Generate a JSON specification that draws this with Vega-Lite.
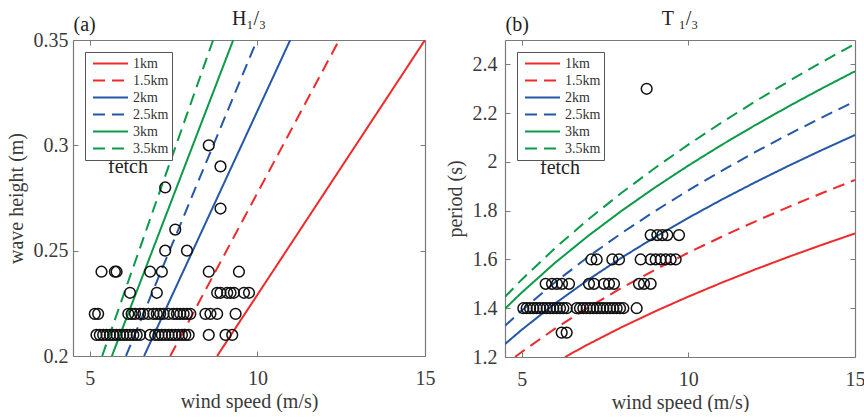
{
"$schema": "https://vega.github.io/schema/vega-lite/v6.json",
"padding": {"left": 6, "top": 8, "right": 0, "bottom": 0},
"config": {
  "font": "Liberation Serif",
  "view": {"stroke": null},
  "axis": {"grid": false, "labelFlush": false, "domainColor": "#7a7a7a", "tickColor": "#7a7a7a", "tickSize": -5, "tickWidth": 1, "domainWidth": 1.2,
    "labelFont": "Liberation Serif", "labelFontSize": 20, "labelColor": "#3a3a3a",
    "titleFont": "Liberation Serif", "titleFontSize": 20, "titleFontWeight": "normal", "titleColor": "#3a3a3a"},
  "legend": {"orient": "top-left", "offset": 12, "title": null, "symbolType": "stroke", "symbolSize": 1225, "symbolStrokeWidth": 2,
    "clipHeight": 17, "rowPadding": 0, "padding": 3, "symbolOffset": 4, "labelOffset": 4,
    "labelFont": "Liberation Serif", "labelFontSize": 14, "labelColor": "#333333", "fillColor": "white", "strokeColor": "#555555"},
  "title": {"font": "Liberation Serif", "fontSize": 20, "fontWeight": "normal", "color": "#222222"},
  "concat": {"spacing": 10}
},
"datasets": {
  "hl": [
    {"fetch": "1km", "speed": 8.8, "height": 0.2}, {"fetch": "1km", "speed": 11.9, "height": 0.275}, {"fetch": "1km", "speed": 15.0, "height": 0.35},
    {"fetch": "1.5km", "speed": 7.4, "height": 0.2}, {"fetch": "1.5km", "speed": 9.92, "height": 0.275}, {"fetch": "1.5km", "speed": 12.44, "height": 0.35},
    {"fetch": "2km", "speed": 6.62, "height": 0.2}, {"fetch": "2km", "speed": 8.8, "height": 0.275}, {"fetch": "2km", "speed": 10.98, "height": 0.35},
    {"fetch": "2.5km", "speed": 6.08, "height": 0.2}, {"fetch": "2.5km", "speed": 8.03, "height": 0.275}, {"fetch": "2.5km", "speed": 9.99, "height": 0.35},
    {"fetch": "3km", "speed": 5.66, "height": 0.2}, {"fetch": "3km", "speed": 7.47, "height": 0.275}, {"fetch": "3km", "speed": 9.28, "height": 0.35},
    {"fetch": "3.5km", "speed": 5.37, "height": 0.2}, {"fetch": "3.5km", "speed": 7.02, "height": 0.275}, {"fetch": "3.5km", "speed": 8.68, "height": 0.35}
  ],
  "tl": [
    {"fetch": "1km", "speed": 6.3, "period": 1.2}, {"fetch": "1km", "speed": 7, "period": 1.2524}, {"fetch": "1km", "speed": 8, "period": 1.3222}, {"fetch": "1km", "speed": 9, "period": 1.387}, {"fetch": "1km", "speed": 10, "period": 1.4476}, {"fetch": "1km", "speed": 11, "period": 1.5047}, {"fetch": "1km", "speed": 12, "period": 1.5588}, {"fetch": "1km", "speed": 13, "period": 1.6103}, {"fetch": "1km", "speed": 14, "period": 1.6595}, {"fetch": "1km", "speed": 15, "period": 1.7067},
    {"fetch": "1.5km", "speed": 4.8, "period": 1.2}, {"fetch": "1.5km", "speed": 5, "period": 1.2205}, {"fetch": "1.5km", "speed": 6, "period": 1.3165}, {"fetch": "1.5km", "speed": 7, "period": 1.4035}, {"fetch": "1.5km", "speed": 8, "period": 1.4835}, {"fetch": "1.5km", "speed": 9, "period": 1.5579}, {"fetch": "1.5km", "speed": 10, "period": 1.6275}, {"fetch": "1.5km", "speed": 11, "period": 1.6932}, {"fetch": "1.5km", "speed": 12, "period": 1.7555}, {"fetch": "1.5km", "speed": 13, "period": 1.8149}, {"fetch": "1.5km", "speed": 14, "period": 1.8716}, {"fetch": "1.5km", "speed": 15, "period": 1.926},
    {"fetch": "2km", "speed": 4.5, "period": 1.253}, {"fetch": "2km", "speed": 5, "period": 1.3115}, {"fetch": "2km", "speed": 6, "period": 1.4192}, {"fetch": "2km", "speed": 7, "period": 1.5172}, {"fetch": "2km", "speed": 8, "period": 1.6075}, {"fetch": "2km", "speed": 9, "period": 1.6916}, {"fetch": "2km", "speed": 10, "period": 1.7706}, {"fetch": "2km", "speed": 11, "period": 1.8452}, {"fetch": "2km", "speed": 12, "period": 1.916}, {"fetch": "2km", "speed": 13, "period": 1.9836}, {"fetch": "2km", "speed": 14, "period": 2.0483}, {"fetch": "2km", "speed": 15, "period": 2.1104},
    {"fetch": "2.5km", "speed": 4.5, "period": 1.328}, {"fetch": "2.5km", "speed": 5, "period": 1.3906}, {"fetch": "2.5km", "speed": 6, "period": 1.5061}, {"fetch": "2.5km", "speed": 7, "period": 1.6112}, {"fetch": "2.5km", "speed": 8, "period": 1.7081}, {"fetch": "2.5km", "speed": 9, "period": 1.7984}, {"fetch": "2.5km", "speed": 10, "period": 1.8833}, {"fetch": "2.5km", "speed": 11, "period": 1.9635}, {"fetch": "2.5km", "speed": 12, "period": 2.0397}, {"fetch": "2.5km", "speed": 13, "period": 2.1124}, {"fetch": "2.5km", "speed": 14, "period": 2.182}, {"fetch": "2.5km", "speed": 15, "period": 2.2489},
    {"fetch": "3km", "speed": 4.5, "period": 1.398}, {"fetch": "3km", "speed": 5, "period": 1.4642}, {"fetch": "3km", "speed": 6, "period": 1.5862}, {"fetch": "3km", "speed": 7, "period": 1.6972}, {"fetch": "3km", "speed": 8, "period": 1.7997}, {"fetch": "3km", "speed": 9, "period": 1.8952}, {"fetch": "3km", "speed": 10, "period": 1.985}, {"fetch": "3km", "speed": 11, "period": 2.0698}, {"fetch": "3km", "speed": 12, "period": 2.1503}, {"fetch": "3km", "speed": 13, "period": 2.2273}, {"fetch": "3km", "speed": 14, "period": 2.3009}, {"fetch": "3km", "speed": 15, "period": 2.3717},
    {"fetch": "3.5km", "speed": 4.5, "period": 1.447}, {"fetch": "3.5km", "speed": 5, "period": 1.5171}, {"fetch": "3.5km", "speed": 6, "period": 1.6465}, {"fetch": "3.5km", "speed": 7, "period": 1.7645}, {"fetch": "3.5km", "speed": 8, "period": 1.8735}, {"fetch": "3.5km", "speed": 9, "period": 1.9753}, {"fetch": "3.5km", "speed": 10, "period": 2.071}, {"fetch": "3.5km", "speed": 11, "period": 2.1615}, {"fetch": "3.5km", "speed": 12, "period": 2.2476}, {"fetch": "3.5km", "speed": 13, "period": 2.3298}, {"fetch": "3.5km", "speed": 14, "period": 2.4087}, {"fetch": "3.5km", "speed": 15, "period": 2.4845}
  ],
  "hp": [
    {"speed": 5.2, "height": 0.21}, {"speed": 5.3, "height": 0.21}, {"speed": 5.4, "height": 0.21}, {"speed": 5.5, "height": 0.21}, {"speed": 5.6, "height": 0.21}, {"speed": 5.7, "height": 0.21}, {"speed": 5.8, "height": 0.21}, {"speed": 5.9, "height": 0.21}, {"speed": 6.0, "height": 0.21}, {"speed": 6.1, "height": 0.21}, {"speed": 6.2, "height": 0.21}, {"speed": 6.3, "height": 0.21}, {"speed": 6.4, "height": 0.21}, {"speed": 6.5, "height": 0.21}, {"speed": 6.8, "height": 0.21}, {"speed": 6.95, "height": 0.21}, {"speed": 7.05, "height": 0.21}, {"speed": 7.15, "height": 0.21}, {"speed": 7.25, "height": 0.21}, {"speed": 7.35, "height": 0.21}, {"speed": 7.45, "height": 0.21}, {"speed": 7.55, "height": 0.21}, {"speed": 7.65, "height": 0.21}, {"speed": 7.75, "height": 0.21}, {"speed": 7.85, "height": 0.21}, {"speed": 7.95, "height": 0.21}, {"speed": 8.55, "height": 0.21}, {"speed": 9.05, "height": 0.21}, {"speed": 9.25, "height": 0.21},
    {"speed": 5.15, "height": 0.22}, {"speed": 5.25, "height": 0.22}, {"speed": 6.15, "height": 0.22}, {"speed": 6.25, "height": 0.22}, {"speed": 6.35, "height": 0.22}, {"speed": 6.5, "height": 0.22}, {"speed": 6.6, "height": 0.22}, {"speed": 6.75, "height": 0.22}, {"speed": 6.9, "height": 0.22}, {"speed": 7.0, "height": 0.22}, {"speed": 7.1, "height": 0.22}, {"speed": 7.2, "height": 0.22}, {"speed": 7.35, "height": 0.22}, {"speed": 7.5, "height": 0.22}, {"speed": 7.6, "height": 0.22}, {"speed": 7.7, "height": 0.22}, {"speed": 7.8, "height": 0.22}, {"speed": 7.9, "height": 0.22}, {"speed": 8.0, "height": 0.22}, {"speed": 8.45, "height": 0.22}, {"speed": 8.6, "height": 0.22}, {"speed": 8.8, "height": 0.22}, {"speed": 9.35, "height": 0.22},
    {"speed": 6.2, "height": 0.23}, {"speed": 7.0, "height": 0.23}, {"speed": 8.8, "height": 0.23}, {"speed": 8.9, "height": 0.23}, {"speed": 9.1, "height": 0.23}, {"speed": 9.2, "height": 0.23}, {"speed": 9.3, "height": 0.23}, {"speed": 9.6, "height": 0.23}, {"speed": 9.75, "height": 0.23},
    {"speed": 5.35, "height": 0.24}, {"speed": 5.75, "height": 0.24}, {"speed": 5.8, "height": 0.24}, {"speed": 6.8, "height": 0.24}, {"speed": 7.15, "height": 0.24}, {"speed": 8.55, "height": 0.24}, {"speed": 9.45, "height": 0.24},
    {"speed": 7.25, "height": 0.25}, {"speed": 7.9, "height": 0.25}, {"speed": 7.55, "height": 0.26}, {"speed": 8.9, "height": 0.27}, {"speed": 7.25, "height": 0.28}, {"speed": 8.9, "height": 0.29}, {"speed": 8.55, "height": 0.30}
  ],
  "tp": [
    {"speed": 6.2, "period": 1.3}, {"speed": 6.35, "period": 1.3},
    {"speed": 5.05, "period": 1.4}, {"speed": 5.15, "period": 1.4}, {"speed": 5.25, "period": 1.4}, {"speed": 5.35, "period": 1.4}, {"speed": 5.45, "period": 1.4}, {"speed": 5.55, "period": 1.4}, {"speed": 5.65, "period": 1.4}, {"speed": 5.75, "period": 1.4}, {"speed": 5.85, "period": 1.4}, {"speed": 5.95, "period": 1.4}, {"speed": 6.05, "period": 1.4}, {"speed": 6.15, "period": 1.4}, {"speed": 6.25, "period": 1.4}, {"speed": 6.35, "period": 1.4}, {"speed": 6.65, "period": 1.4}, {"speed": 6.75, "period": 1.4}, {"speed": 6.85, "period": 1.4}, {"speed": 6.95, "period": 1.4}, {"speed": 7.05, "period": 1.4}, {"speed": 7.15, "period": 1.4}, {"speed": 7.25, "period": 1.4}, {"speed": 7.35, "period": 1.4}, {"speed": 7.45, "period": 1.4}, {"speed": 7.55, "period": 1.4}, {"speed": 7.65, "period": 1.4}, {"speed": 7.75, "period": 1.4}, {"speed": 7.85, "period": 1.4}, {"speed": 7.95, "period": 1.4}, {"speed": 8.05, "period": 1.4}, {"speed": 8.45, "period": 1.4},
    {"speed": 5.72, "period": 1.5}, {"speed": 5.91, "period": 1.5}, {"speed": 6.06, "period": 1.5}, {"speed": 6.21, "period": 1.5}, {"speed": 6.42, "period": 1.5}, {"speed": 7.02, "period": 1.5}, {"speed": 7.17, "period": 1.5}, {"speed": 7.47, "period": 1.5}, {"speed": 7.62, "period": 1.5}, {"speed": 7.77, "period": 1.5}, {"speed": 8.52, "period": 1.5}, {"speed": 8.67, "period": 1.5}, {"speed": 8.87, "period": 1.5},
    {"speed": 7.09, "period": 1.6}, {"speed": 7.25, "period": 1.6}, {"speed": 7.72, "period": 1.6}, {"speed": 7.92, "period": 1.6}, {"speed": 8.57, "period": 1.6}, {"speed": 8.87, "period": 1.6}, {"speed": 9.02, "period": 1.6}, {"speed": 9.17, "period": 1.6}, {"speed": 9.32, "period": 1.6}, {"speed": 9.47, "period": 1.6}, {"speed": 9.62, "period": 1.6},
    {"speed": 8.87, "period": 1.7}, {"speed": 9.07, "period": 1.7}, {"speed": 9.22, "period": 1.7}, {"speed": 9.37, "period": 1.7}, {"speed": 9.72, "period": 1.7},
    {"speed": 8.75, "period": 2.3}
  ],
  "lab": [{"label": "fetch"}]
},
"hconcat": [
  {
    "width": 352, "height": 316,
    "title": {"text": "H\u2081/\u2083", "frame": "group", "offset": -14},
    "layer": [
      {"data": {"name": "hl"}, "mark": {"type": "line", "strokeWidth": 2, "clip": true},
       "encoding": {
         "x": {"field": "speed", "type": "quantitative", "scale": {"domain": [4.5, 15], "nice": false, "zero": false}, "axis": {"title": "wind speed (m/s)", "values": [5, 10, 15], "labelPadding": 17, "titlePadding": 3}},
         "y": {"field": "height", "type": "quantitative", "scale": {"domain": [0.2, 0.35], "nice": false, "zero": false}, "axis": {"title": "wave height (m)", "values": [0.2, 0.25, 0.3, 0.35], "format": "~g", "labelPadding": 10, "titlePadding": 7}},
         "color": {"field": "fetch", "type": "nominal", "scale": {"domain": ["1km", "1.5km", "2km", "2.5km", "3km", "3.5km"], "range": ["#ee2a2a", "#ee2a2a", "#2557a8", "#2557a8", "#0b9a48", "#0b9a48"]}},
         "strokeDash": {"field": "fetch", "type": "nominal", "scale": {"domain": ["1km", "1.5km", "2km", "2.5km", "3km", "3.5km"], "range": [[1, 0], [12, 7], [1, 0], [12, 7], [1, 0], [12, 7]]}}
       }},
      {"data": {"name": "hp"}, "mark": {"type": "point", "shape": "circle", "filled": false, "color": "#111111", "size": 115, "strokeWidth": 1.5, "opacity": 1},
       "encoding": {
         "x": {"field": "speed", "type": "quantitative", "scale": {"domain": [4.5, 15], "nice": false, "zero": false}, "axis": null},
         "y": {"field": "height", "type": "quantitative", "scale": {"domain": [0.2, 0.35], "nice": false, "zero": false}, "axis": null}
       }},
      {"data": {"name": "lab"}, "mark": {"type": "text", "fontSize": 20, "color": "#222222", "align": "center", "baseline": "middle"},
       "encoding": {
         "text": {"field": "label"},
         "x": {"datum": 6.14, "type": "quantitative", "scale": {"domain": [4.5, 15], "nice": false, "zero": false}, "axis": {"orient": "top", "labels": false, "values": [5, 10, 15], "title": "(a)", "titleAnchor": "start", "titleAlign": "left", "titlePadding": 5, "titleFontSize": 20, "titleColor": "#222222"}},
         "y": {"datum": 0.2897, "type": "quantitative", "scale": {"domain": [0.2, 0.35], "nice": false, "zero": false}, "axis": {"orient": "right", "labels": false, "values": [0.2, 0.25, 0.3, 0.35], "title": null}}
       }}
    ],
    "resolve": {"axis": {"x": "independent", "y": "independent"}}
  },
  {
    "width": 350, "height": 317,
    "title": {"text": "T \u2081/\u2083", "frame": "group", "offset": -14},
    "layer": [
      {"data": {"name": "tl"}, "mark": {"type": "line", "strokeWidth": 2, "clip": true},
       "encoding": {
         "x": {"field": "speed", "type": "quantitative", "scale": {"domain": [4.5, 15], "nice": false, "zero": false}, "axis": {"title": "wind speed (m/s)", "values": [5, 10, 15], "labelPadding": 17, "titlePadding": 3}},
         "y": {"field": "period", "type": "quantitative", "scale": {"domain": [1.2, 2.5], "nice": false, "zero": false}, "axis": {"title": "period (s)", "values": [1.2, 1.4, 1.6, 1.8, 2, 2.2, 2.4], "format": ".1~f", "labelPadding": 13, "titlePadding": 7}},
         "color": {"field": "fetch", "type": "nominal", "scale": {"domain": ["1km", "1.5km", "2km", "2.5km", "3km", "3.5km"], "range": ["#ee2a2a", "#ee2a2a", "#2557a8", "#2557a8", "#0b9a48", "#0b9a48"]}},
         "strokeDash": {"field": "fetch", "type": "nominal", "scale": {"domain": ["1km", "1.5km", "2km", "2.5km", "3km", "3.5km"], "range": [[1, 0], [12, 7], [1, 0], [12, 7], [1, 0], [12, 7]]}}
       }},
      {"data": {"name": "tp"}, "mark": {"type": "point", "shape": "circle", "filled": false, "color": "#111111", "size": 115, "strokeWidth": 1.5, "opacity": 1},
       "encoding": {
         "x": {"field": "speed", "type": "quantitative", "scale": {"domain": [4.5, 15], "nice": false, "zero": false}, "axis": null},
         "y": {"field": "period", "type": "quantitative", "scale": {"domain": [1.2, 2.5], "nice": false, "zero": false}, "axis": null}
       }},
      {"data": {"name": "lab"}, "mark": {"type": "text", "fontSize": 20, "color": "#222222", "align": "center", "baseline": "middle"},
       "encoding": {
         "text": {"field": "label"},
         "x": {"datum": 6.15, "type": "quantitative", "scale": {"domain": [4.5, 15], "nice": false, "zero": false}, "axis": {"orient": "top", "labels": false, "values": [5, 10, 15], "title": "(b)", "titleAnchor": "start", "titleAlign": "left", "titlePadding": 5, "titleFontSize": 20, "titleColor": "#222222"}},
         "y": {"datum": 1.975, "type": "quantitative", "scale": {"domain": [1.2, 2.5], "nice": false, "zero": false}, "axis": {"orient": "right", "labels": false, "values": [1.2, 1.4, 1.6, 1.8, 2, 2.2, 2.4], "title": null}}
       }}
    ],
    "resolve": {"axis": {"x": "independent", "y": "independent"}}
  }
],
"resolve": {"scale": {"color": "independent", "strokeDash": "independent"}, "legend": {"color": "independent", "strokeDash": "independent"}}
}
